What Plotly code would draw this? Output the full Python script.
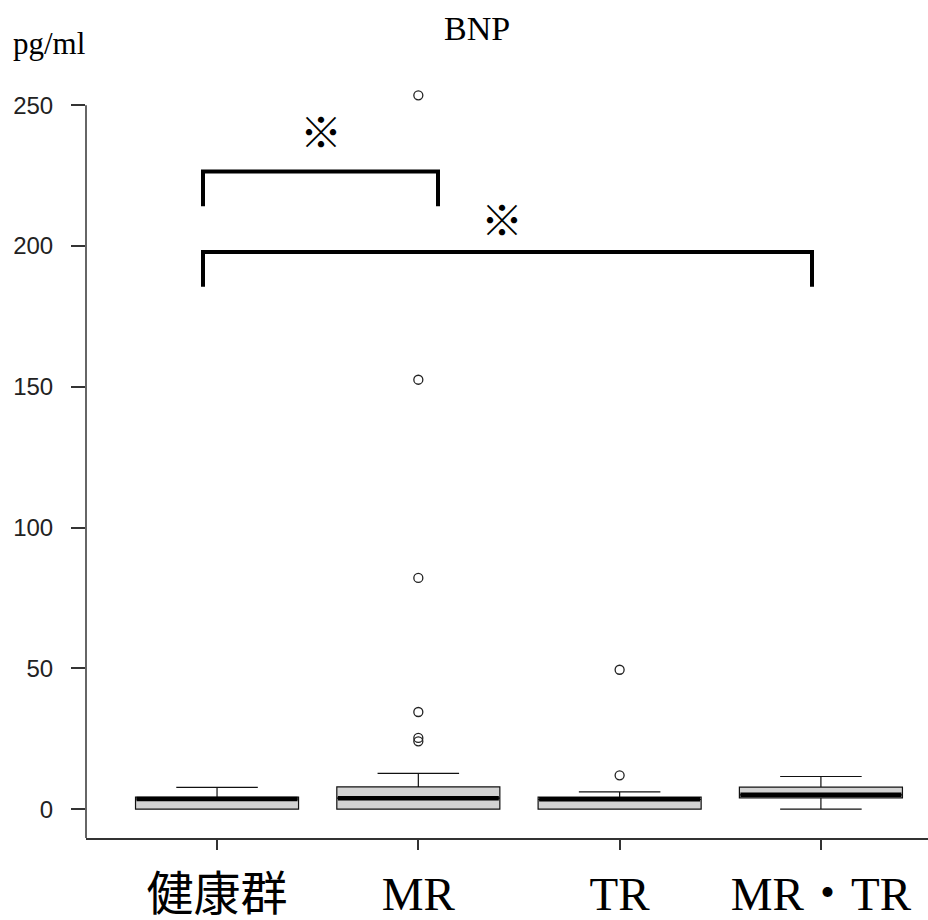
import plotly.graph_objects as go

# ---- data ----
categories = ["健康群", "MR", "TR", "MR・TR"]
positions = [1, 2, 3, 4]
q1 = [0.0, 0.0, 0.0, 4.0]
median = [3.6, 3.9, 3.5, 5.1]
q3 = [4.3, 7.9, 4.3, 7.8]
lower_whisker = [0.0, 0.0, 0.0, 0.0]
upper_whisker = [7.7, 12.7, 6.1, 11.6]
outliers_x = [2, 2, 2, 2, 2, 2, 3, 3]
outliers_y = [253.5, 152.5, 82.1, 34.5, 25.3, 24.1, 49.5, 12.0]
y_ticks = [0, 50, 100, 150, 200, 250]

W, H = 928, 920
ML, MR_, MT, MB = 86, 0, 70, 78
PW, PH = W - ML - MR_, H - MT - MB
y_range = [-10.25, 262.5]
x_range = [0.349, 4.532]

def px(xpix):
    return (xpix - ML) / PW

def py(ypix):
    return (H - MB - ypix) / PH

fig = go.Figure()
box_w = 0.81
for i, c in enumerate(categories):
    fig.add_trace(go.Box(
        x=[positions[i]], q1=[q1[i]], median=[median[i]], q3=[q3[i]],
        lowerfence=[lower_whisker[i]], upperfence=[upper_whisker[i]],
        width=box_w, whiskerwidth=0.5, boxpoints=False,
        fillcolor="#d3d3d3", line=dict(color="#111111", width=1.2),
        showlegend=False, hoverinfo="skip",
    ))
    # thick median line
    fig.add_trace(go.Scatter(
        x=[positions[i] - box_w / 2 + 0.005, positions[i] + box_w / 2 - 0.005],
        y=[median[i], median[i]], mode="lines",
        line=dict(color="black", width=4.5), showlegend=False, hoverinfo="skip",
    ))

fig.add_trace(go.Scatter(
    x=outliers_x, y=outliers_y, mode="markers",
    marker=dict(symbol="circle-open", size=9, color="#222222", line=dict(width=1.3)),
    showlegend=False, cliponaxis=False, hoverinfo="skip",
))

shapes = []
# y axis line (from bottom of plot to 250)
shapes.append(dict(type="line", xref="paper", yref="y", x0=0, x1=0,
                   y0=y_range[0], y1=250, line=dict(color="#333333", width=1.5)))
# significance brackets
def bracket(xl, xr, ytop, ybot):
    return dict(type="path", xref="paper", yref="paper",
                path=f"M {px(xl)},{py(ybot)} L {px(xl)},{py(ytop)} L {px(xr)},{py(ytop)} L {px(xr)},{py(ybot)}",
                line=dict(color="black", width=4))
shapes.append(bracket(203, 438, 172, 207))
shapes.append(bracket(203, 812, 253, 288))

annotations = [
    dict(text="BNP", x=px(477), y=py(28), xref="paper", yref="paper", showarrow=False,
         font=dict(family="Liberation Serif", size=34, color="black"), xanchor="center", yanchor="middle"),
    dict(text="pg/ml", x=px(11), y=py(43), xref="paper", yref="paper", showarrow=False,
         font=dict(family="Liberation Serif", size=31, color="black"), xanchor="left", yanchor="middle"),
    dict(text="※", x=px(321), y=py(130), xref="paper", yref="paper", showarrow=False,
         font=dict(family="Noto Sans CJK JP", size=42, color="black"), xanchor="center", yanchor="middle"),
    dict(text="※", x=px(502), y=py(218), xref="paper", yref="paper", showarrow=False,
         font=dict(family="Noto Sans CJK JP", size=42, color="black"), xanchor="center", yanchor="middle"),
]

fig.update_layout(
    width=W, height=H, margin=dict(l=ML, r=MR_, t=MT, b=MB, pad=0),
    plot_bgcolor="white", paper_bgcolor="white",
    shapes=shapes, annotations=annotations, showlegend=False,
    xaxis=dict(range=x_range, tickvals=positions, ticktext=categories,
               showgrid=False, zeroline=False, showline=True, linecolor="#333333", linewidth=1.5,
               ticks="outside", ticklen=10, tickwidth=1.5, tickcolor="#333333",
               ticklabelstandoff=4,
               tickfont=dict(family="Liberation Serif, Noto Sans CJK JP", size=47, color="black")),
    yaxis=dict(range=y_range, tickvals=y_ticks, showgrid=False, zeroline=False, showline=False,
               ticks="outside", ticklen=14, tickwidth=1.5, tickcolor="#333333",
               ticklabelstandoff=13,
               tickfont=dict(family="Liberation Sans, Arial", size=24, color="#222222")),
)

fig.write_html("out.html", config={"displayModeBar": False},
               post_script="document.body.style.margin='0';document.body.style.overflow='hidden';")
